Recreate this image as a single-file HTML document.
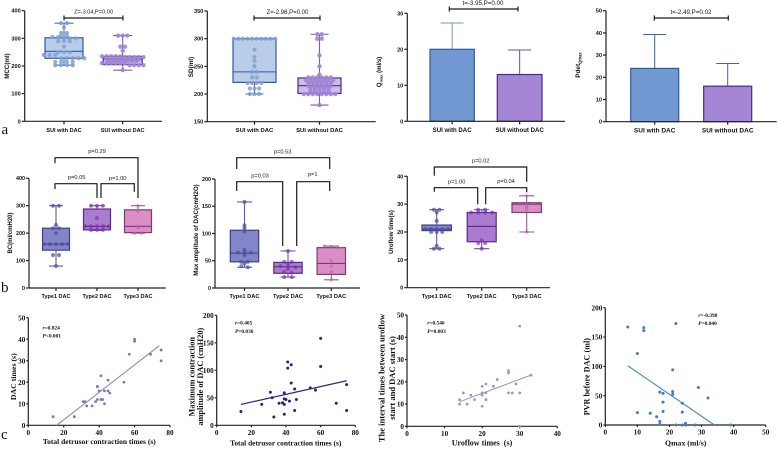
<!DOCTYPE html>
<html lang="en">
<head>
<meta charset="utf-8">
<title>DAC urodynamics figure</title>
<style>
html,body{margin:0;padding:0;background:#fff;}
body{width:777px;height:449px;overflow:hidden;}
svg{display:block;filter:blur(0.3px);}
.s{font-family:"Liberation Sans",sans-serif;fill:#1a1a1a;}
.b{font-family:"Liberation Sans",sans-serif;font-weight:bold;fill:#111;}
.f{font-family:"Liberation Serif",serif;font-weight:bold;fill:#111;}
.br{fill:none;stroke:#1a1a1a;stroke-width:1.2;}
</style>
</head>
<body>
<svg id="fig" width="777" height="449" viewBox="0 0 777 449" xmlns="http://www.w3.org/2000/svg">
<rect width="777" height="449" fill="#fff"/>

<text class="f" style="font-weight:normal" x="1.5" y="134" font-size="15">a</text>
<text class="f" style="font-weight:normal" x="1" y="292" font-size="15">b</text>
<text class="f" style="font-weight:normal" x="1" y="439" font-size="15">c</text>

<text class="b" font-size="6.2" text-anchor="middle" transform="translate(9,66) rotate(-90)">MCC(ml)</text>
<text class="b" font-size="6.4" text-anchor="middle" transform="translate(193,67) rotate(-90)">SD(ml)</text>
<text class="b" font-size="6" text-anchor="middle" transform="translate(381,72) rotate(-90)">Q<tspan font-size="4" dy="1.5">max</tspan><tspan dy="-1.5">  (ml/s)</tspan></text>
<text class="b" font-size="6.4" text-anchor="middle" transform="translate(580,65) rotate(-90)">Pdet<tspan font-size="4.2" dy="1.5">Qmax</tspan></text>
<text class="b" font-size="6" text-anchor="middle" transform="translate(12,233) rotate(-90)">BC(ml/cmH20)</text>
<text class="b" font-size="6.2" text-anchor="middle" transform="translate(198.2,230) rotate(-90)">Max amplitude of DAC(cmH2O)</text>
<text class="b" font-size="6" text-anchor="middle" transform="translate(393,232) rotate(-90)">Uroflow time(s)</text>

<g>
<path class="br" d="M64 15.5V20.5M64 18H123M123 15.5V20.5"/>
<path class="br" d="M254 15.5V20.5M254 18H320M320 15.5V20.5"/>
<path class="br" d="M449.3 6.5V11.5M449.3 9H518M518 6.5V11.5"/>
<path class="br" d="M654.3 15.5V20.5M654.3 18H728.3M728.3 15.5V20.5"/>
<text class="s" font-size="5.6" text-anchor="middle" x="93.5" y="13.5">Z=-3.04,P=0.00</text>
<text class="s" font-size="6" text-anchor="middle" x="287.5" y="14">Z=-2.96,P=0.00</text>
<text class="s" font-size="6.2" text-anchor="middle" x="483" y="5">t=-3.95,P=0.00</text>
<text class="s" font-size="6.2" text-anchor="middle" x="691" y="14">t=-2.49,P=0.02</text>
</g>

<g>
<path class="br" d="M55 163.3V157.7H138V198"/>
<path class="br" d="M55 189V183.7H97V198"/>
<path class="br" d="M101 198V183.7H134.3V191.7"/>
<text class="s" font-size="5.7" text-anchor="middle" x="97" y="153">p=0.29</text>
<text class="s" font-size="5.7" text-anchor="middle" x="76.7" y="179">p=0.05</text>
<text class="s" font-size="5.7" text-anchor="middle" x="117.7" y="180">p=1.00</text>
<path class="br" d="M236.7 169V157.7H329.7V169"/>
<path class="br" d="M236.7 191V181.7H282.7V246"/>
<path class="br" d="M296.7 246V181.7H329.7V191"/>
<text class="s" font-size="5.7" text-anchor="middle" x="282.7" y="153.7">p=0.53</text>
<text class="s" font-size="5.7" text-anchor="middle" x="260" y="177.3">p=0.03</text>
<text class="s" font-size="5.7" text-anchor="middle" x="312.7" y="176">p=1</text>
<path class="br" d="M434.3 175.7V167H526.7V181.7"/>
<path class="br" d="M434.3 191.7V187.7H477.7V204.3"/>
<path class="br" d="M485.7 204.3V187.7H526.7V192.3"/>
<text class="s" font-size="5.7" text-anchor="middle" x="480.7" y="162.3">p=0.02</text>
<text class="s" font-size="5.7" text-anchor="middle" x="456.7" y="183.7">p=1.00</text>
<text class="s" font-size="5.7" text-anchor="middle" x="506" y="183">p=0.04</text>
</g>

<g>
<text class="f" font-size="7.5" text-anchor="middle" x="99.3" y="444">Total detrusor contraction times (s)</text>
<text class="f" font-size="7.8" text-anchor="middle" transform="translate(15.8,376.7) rotate(-90)">DAC times (s)</text>
<text class="f" font-size="5.4" x="42.5" y="329.5"><tspan font-style="italic">r</tspan>=0.824</text>
<text class="f" font-size="5.4" x="42.5" y="337.5"><tspan font-style="italic">P</tspan>&lt;0.001</text>

<text class="f" font-size="7.4" text-anchor="middle" x="285.7" y="445.5">Total detrusor contraction times (s)</text>
<text class="f" font-size="8.3" text-anchor="middle" transform="translate(194.5,376.7) rotate(-90)">Maximum contraction</text>
<text class="f" font-size="8.3" text-anchor="middle" transform="translate(203,376.7) rotate(-90)">amplitude of DAC (cmH20)</text>
<text class="f" font-size="5.4" x="235" y="324.5"><tspan font-style="italic">r</tspan>=0.405</text>
<text class="f" font-size="5.4" x="235" y="333"><tspan font-style="italic">P</tspan>=0.036</text>

<text class="f" font-size="8" text-anchor="middle" x="482" y="445.5">Uroflow times &#160;(s)</text>
<text class="f" font-size="8.5" text-anchor="middle" transform="translate(384.5,378) rotate(-90)">The interval times between uroflow</text>
<text class="f" font-size="8.5" text-anchor="middle" transform="translate(395,378) rotate(-90)">start and DAC start (s)</text>
<text class="f" font-size="5.4" x="427.3" y="324.5"><tspan font-style="italic">r</tspan>=0.546</text>
<text class="f" font-size="5.4" x="427.3" y="333"><tspan font-style="italic">P</tspan>=0.003</text>

<text class="f" font-size="7.8" text-anchor="middle" x="685.7" y="445.5">Qmax (ml/s)</text>
<text class="f" font-size="8.2" text-anchor="middle" transform="translate(589.5,376.7) rotate(-90)">PVR before DAC (ml)</text>
<text class="f" font-size="5.4" x="698.3" y="317"><tspan font-style="italic">r</tspan>=-0.398</text>
<text class="f" font-size="5.4" x="698.3" y="325"><tspan font-style="italic">P</tspan>=0.040</text>
</g>
</svg>

<script>
// ---------- category labels ----------
const suiCategories = ['SUI with DAC', 'SUI without DAC'];
const typeCategories = ['Type1 DAC', 'Type2 DAC', 'Type3 DAC'];

// ---------- tick labels ----------
const mccTicks = [0, 100, 200, 300, 400];
const sdTicks = [150, 200, 250, 300, 350];
const qmaxTicks = [0, 10, 20, 30];
const pdetTicks = [0, 10, 20, 30, 40, 50];
const bcTicks = [0, 100, 200, 300, 400];
const ampTicks = [0, 50, 100, 150, 200];
const uroTicks = [0, 10, 20, 30, 40];
const c1XTicks = [0, 20, 40, 60, 80];
const c1YTicks = [0, 10, 20, 30, 40, 50];
const c2XTicks = [0, 20, 40, 60, 80];
const c2YTicks = [0, 50, 100, 150, 200];
const c3XTicks = [0, 10, 20, 30, 40];
const c3YTicks = [0, 10, 20, 30, 40, 50];
const c4XTicks = [0, 10, 20, 30, 40, 50];
const c4YTicks = [0, 50, 100, 150, 200];

// ---------- box summaries: min, q1, median, q3, max ----------
const mccWithBox = [203, 228, 253, 302, 355];
const mccWithoutBox = [185, 205, 226, 235, 310];
const sdWithBox = [200, 221, 240, 300, 300];
const sdWithoutBox = [180, 201, 215, 229, 308];
const bcType1Box = [80, 138, 160, 218, 300];
const bcType2Box = [210, 212, 225, 288, 300];
const bcType3Box = [200, 202, 225, 285, 300];
const ampType1Box = [38, 48, 64, 106, 158];
const ampType2Box = [20, 27, 39, 47, 68];
const ampType3Box = [15, 25, 45, 74, 77];
const uroType1Box = [14, 20.5, 21, 22.5, 28];
const uroType2Box = [14, 16.5, 22, 27, 28];
const uroType3Box = [20, 27, 30, 30.5, 33];

// ---------- swarm points ----------
const mccWithPts = [355,355,340,320,320,310,310,305,305,300,300,300,290,290,290,270,250,250,250,240,240,240,228,228,228,228,228,215,215,215,215,203,203,203,203];
const mccWithoutPts = [310,310,310,270,270,255,235,235,235,235,235,232,232,232,232,232,225,225,225,225,225,225,225,225,218,218,218,218,218,218,218,210,210,210,210,210,210,203,203,203,203,185];
const sdWithPts = [300,300,300,300,300,300,300,300,300,300,280,267,260,250,240,240,230,230,220,220,220,220,210,210,210,200,200,200];
const sdWithoutPts = [308,308,300,300,270,250,235,230,230,230,230,230,230,225,225,225,225,225,225,225,220,220,220,220,220,220,215,215,215,215,215,215,210,210,210,210,210,205,205,205,205,205,200,200,200,200,200,200,200,200,180];
const bcType1Pts = [300,300,230,200,218,218,160,160,160,160,160,120,120,80];
const bcType2Pts = [300,300,300,255,225,225,225,225,225,212,212,212];
const bcType3Pts = [300,280,225,220,200,200];
const ampType1Pts = [158,115,110,104,70,65,65,65,60,48,48,45,40,38];
const ampType2Pts = [68,48,48,45,40,40,38,35,30,28,20,20];
const ampType3Pts = [77,76,74,50,40,30,15];
const uroType1Pts = [28,28,27,24,21,21,21,21,21,20,20,20,15,14,14];
const uroType2Pts = [28,28,27,27,27,27,17,16,16,14];
const uroType3Pts = [33,30,30,30,29,28,20];

// ---------- bars: mean and upper error ----------
const qmaxMeans = [20, 13];
const qmaxUpper = [27.3, 19.8];
const pdetMeans = [24, 16];
const pdetUpper = [39.3, 26.2];

// ---------- scatter panels ----------
const c1X = [14,26,31,32,33,36,38,39,39,39,40,41,41,42,43,43,45,45,46,54,57,60,60,69,75,75];
const c1Y = [4,4,11,11,9,9,11,12,18,18,16,23,12,12,10,16,21,16,15,20,33,39,40,33,35,30];
const c1LineX = [16, 74];
const c1LineY = [0, 37];
const c2X = [14,26,31,32,33,36,38,39,39,39,39,40,41,41,42,43,43,45,45,46,54,57,60,60,69,75,75];
const c2Y = [25,38,60,50,15,40,41,38,20,59,48,47,115,104,44,110,77,27,66,47,68,64,158,107,40,27,74];
const c2LineX = [14, 75];
const c2LineY = [38, 81];
const c3X = [14,14,15,16,17,18,20,20,20,20,21,21,21,21,23,24,27,27,27,28,29,30,30,30,33];
const c3Y = [10,12,15,10,14,12,9,14,15,18,12,12,15,19,18,21,15,24,25,15,19,15,45,0,23];
const c3LineX = [14, 33];
const c3LineY = [11, 23];
const c4X = [7,10,10,12,12,14,16,17,17,17,18,18,18,21,21,21,22,22,24,24,24,25,25,28,29,32,39];
const c4Y = [167,122,21,166,161,20,14,56,6,1,54,39,23,94,57,52,173,0,37,22,0,3,0,0,64,46,0];
const c4LineX = [7, 34];
const c4LineY = [101, 0];

// ---------- helpers ----------
const NS = 'http://www.w3.org/2000/svg';
const fig = document.getElementById('fig');
function mk(tag, parent, props, text) {
  const el = document.createElementNS(NS, tag);
  for (const k in props) el.setAttribute(k, props[k]);
  if (text !== undefined) el.textContent = text;
  parent.appendChild(el);
  return el;
}
function linear(d0, d1, r0, r1) {
  return v => r0 + (v - d0) / (d1 - d0) * (r1 - r0);
}
function panel(name) {
  const g = mk('g', fig, {});
  
  
  return g;
}
function drawYAxis(g, x, top, bottom, ticks, sy, cls, fs, len) {
  const ax = mk('line', g, {x1: x, x2: x, y1: top, y2: bottom, stroke: '#222', 'stroke-width': 1.2});
  
  
  ticks.forEach(t => {
    const tk = mk('line', g, {x1: x - len, x2: x, y1: sy(t), y2: sy(t), stroke: '#222', 'stroke-width': 1.2});
    
    
    const lb = mk('text', g, {x: x - len - 1, y: sy(t) + fs * 0.36, 'text-anchor': 'end', 'font-size': fs, class: cls}, t);
    
    
  });
}
function drawXBase(g, x0, x1, y) {
  const ax = mk('line', g, {x1: x0, x2: x1, y1: y, y2: y, stroke: '#222', 'stroke-width': 1.2});
  
  
}
function drawCategoryTicks(g, labels, centers, y, labelY, fs) {
  labels.forEach((c, i) => {
    const tk = mk('line', g, {x1: centers(i), x2: centers(i), y1: y, y2: y + 3, stroke: '#222', 'stroke-width': 1.2});
    
    
    const lb = mk('text', g, {x: centers(i), y: labelY, 'text-anchor': 'middle', 'font-size': fs, class: 'b'}, c);
    
    
  });
}
function drawBox(g, cx, w, sy, stats, col, capW) {
  const [mn, q1, med, q3, mx] = stats;
  const box = mk('rect', g, {x: cx - w / 2, y: sy(q3), width: w, height: sy(q1) - sy(q3), fill: col.fill, stroke: col.line, 'stroke-width': 1.2});
  
  
  const medLine = mk('line', g, {x1: cx - w / 2, x2: cx + w / 2, y1: sy(med), y2: sy(med), stroke: col.line, 'stroke-width': 1.1});
  
  
  const whisk = mk('path', g, {
    d: `M${cx} ${sy(q3)}V${sy(mx)}M${cx - capW / 2} ${sy(mx)}H${cx + capW / 2}M${cx} ${sy(q1)}V${sy(mn)}M${cx - capW / 2} ${sy(mn)}H${cx + capW / 2}`,
    fill: 'none', stroke: col.whisker, 'stroke-width': 1.1
  });
  
  
}
function drawSwarm(g, cx, sy, values, col, binSize, step, r) {
  const bins = new Map();
  values.forEach(v => {
    const k = Math.round(v / binSize);
    if (!bins.has(k)) bins.set(k, []);
    bins.get(k).push(v);
  });
  bins.forEach(list => {
    list.forEach((v, i) => {
      const off = (i - (list.length - 1) / 2) * step;
      const c = mk('circle', g, {cx: cx + off, cy: sy(v), r: r, fill: col.dot, 'fill-opacity': col.op});
      
      
    });
  });
}
function drawBar(g, x0, x1, sy, mean, upper, col) {
  const cx = (x0 + x1) / 2;
  const err = mk('path', g, {d: `M${cx} ${sy(mean)}V${sy(upper)}M${cx - 11.5} ${sy(upper)}H${cx + 11.5}`, fill: 'none', stroke: col.err, 'stroke-width': 1});
  
  
  const b = mk('rect', g, {x: x0, y: sy(mean), width: x1 - x0, height: sy(0) - sy(mean), fill: col.fill, stroke: col.line, 'stroke-width': 1.2});
  
  
}
function drawScatter(g, geo, xTicks, yTicks, xs, ys, lineX, lineY, col) {
  const sx = linear(xTicks[0], xTicks[xTicks.length - 1], geo.x0, geo.x1);
  const sy = linear(yTicks[0], yTicks[yTicks.length - 1], geo.y0, geo.y1);
  drawYAxis(g, geo.x0, geo.y1, geo.y0, yTicks, sy, 'f', 7.2, 2);
  drawXBase(g, geo.x0, geo.x1, geo.y0);
  xTicks.forEach(t => {
    const tk = mk('line', g, {x1: sx(t), x2: sx(t), y1: geo.y0, y2: geo.y0 + 2, stroke: '#222', 'stroke-width': 1.2});
    
    
    const lb = mk('text', g, {x: sx(t), y: geo.y0 + 9.5, 'text-anchor': 'middle', 'font-size': 7.2, class: 'f'}, t);
    
    
  });
  const tl = mk('line', g, {x1: sx(lineX[0]), y1: sy(lineY[0]), x2: sx(lineX[1]), y2: sy(lineY[1]), stroke: col.line, 'stroke-width': col.w});
  
  
  xs.forEach((x, i) => {
    const p = mk('circle', g, {cx: sx(x), cy: sy(ys[i]), r: col.r, fill: col.dot});
    
    
  });
}

// ---------- colours ----------
const blue = {fill:'#b9cde9', line:'#2f5c9f', whisker:'#4a72b0', dot:'#7f9fd2', op:.85};
const purple = {fill:'#cdbcea', line:'#4a2c92', whisker:'#7a5cb8', dot:'#9f84d6', op:.9};
const indigo = {fill:'#8484c8', line:'#3f3f8c', whisker:'#5e5ea0', dot:'#4d4d9e', op:.7};
const violet = {fill:'#ab7bd0', line:'#5a2a8c', whisker:'#7a4aa8', dot:'#7534a8', op:.65};
const pink = {fill:'#d98fc6', line:'#7f3a70', whisker:'#9a5a8c', dot:'#b060a0', op:.55};
const barBlue = {fill:'#7299d2', line:'#2f5a9e', err:'#7f95bf'};
const barBlue2 = {fill:'#7299d2', line:'#2f5a9e', err:'#3f659f'};
const barPurple = {fill:'#a586d4', line:'#47288c', err:'#6c4fa0'};

// ---------- panel a: boxes ----------
(function () {
  const g = panel('mcc-boxplot');
  const sy = linear(0, 400, 121.3, 10.7);
  const cx = [64, 122.7];
  drawBox(g, cx[0], 38, sy, mccWithBox, blue, 19);
  drawBox(g, cx[1], 39, sy, mccWithoutBox, purple, 19);
  drawSwarm(g, cx[0], sy, mccWithPts, blue, 13, 5.8, 2.1);
  drawSwarm(g, cx[1], sy, mccWithoutPts, purple, 9, 4.6, 2.2);
  drawYAxis(g, 24.7, 10.7, 121.3, mccTicks, sy, 'b', 5.6, 3);
  drawXBase(g, 24.7, 162, 121.3);
  drawCategoryTicks(g, suiCategories, i => cx[i], 121.3, 132, 5.5);
})();
(function () {
  const g = panel('sd-boxplot');
  const sy = linear(150, 350, 121.7, 11);
  const cx = [254.5, 319.5];
  drawBox(g, cx[0], 43, sy, sdWithBox, blue, 18);
  drawBox(g, cx[1], 43, sy, sdWithoutBox, purple, 18);
  drawSwarm(g, cx[0], sy, sdWithPts, blue, 5, 4.6, 2.1);
  drawSwarm(g, cx[1], sy, sdWithoutPts, purple, 5, 4.5, 2.2);
  drawYAxis(g, 207.3, 11, 121.7, sdTicks, sy, 'b', 5.6, 3);
  drawXBase(g, 207.3, 375.7, 121.7);
  drawCategoryTicks(g, suiCategories, i => cx[i], 121.7, 132, 5.9);
})();

// ---------- panel a: bars ----------
(function () {
  const g = panel('qmax-bar-chart');
  const sy = linear(0, 30, 121.3, 13.3);
  const ex = [[430, 474.3], [497.3, 542]];
  qmaxMeans.forEach((m, i) => drawBar(g, ex[i][0], ex[i][1], sy, m, qmaxUpper[i], i ? barPurple : barBlue));
  drawYAxis(g, 407.3, 13.3, 121.3, qmaxTicks, sy, 'b', 5.6, 3);
  drawXBase(g, 407.3, 565, 121.3);
  drawCategoryTicks(g, suiCategories, i => (ex[i][0] + ex[i][1]) / 2, 121.3, 132, 6.1);
})();
(function () {
  const g = panel('pdet-bar-chart');
  const sy = linear(0, 50, 121.7, 10.7);
  const ex = [[630.7, 678.7], [703.7, 751.7]];
  pdetMeans.forEach((m, i) => drawBar(g, ex[i][0], ex[i][1], sy, m, pdetUpper[i], i ? barPurple : barBlue2));
  drawYAxis(g, 606, 10.7, 121.7, pdetTicks, sy, 'b', 5.6, 3);
  drawXBase(g, 606, 776.7, 121.7);
  drawCategoryTicks(g, suiCategories, i => (ex[i][0] + ex[i][1]) / 2, 121.7, 132.5, 6.5);
})();

// ---------- panel b ----------
(function () {
  const g = panel('bc-boxplot');
  const sy = linear(0, 400, 288, 178.3);
  const cx = [56, 97, 138];
  drawBox(g, cx[0], 27, sy, bcType1Box, indigo, 14);
  drawBox(g, cx[1], 27, sy, bcType2Box, violet, 14);
  drawBox(g, cx[2], 27, sy, bcType3Box, pink, 14);
  drawSwarm(g, cx[0], sy, bcType1Pts, indigo, 5, 6, 2);
  drawSwarm(g, cx[1], sy, bcType2Pts, violet, 5, 6, 2);
  drawSwarm(g, cx[2], sy, bcType3Pts, pink, 5, 7, 1.7);
  drawYAxis(g, 29, 178.3, 288, bcTicks, sy, 'b', 5.4, 3);
  drawXBase(g, 29, 165.7, 288);
  drawCategoryTicks(g, typeCategories, i => cx[i], 288, 298, 5.5);
})();
(function () {
  const g = panel('amplitude-boxplot');
  const sy = linear(0, 200, 288, 179);
  const cx = [244.5, 288, 331.3];
  drawBox(g, cx[0], 28.4, sy, ampType1Box, indigo, 15);
  drawBox(g, cx[1], 28.4, sy, ampType2Box, violet, 15);
  drawBox(g, cx[2], 28.4, sy, ampType3Box, pink, 15);
  drawSwarm(g, cx[0], sy, ampType1Pts, indigo, 5, 6.5, 2);
  drawSwarm(g, cx[1], sy, ampType2Pts, violet, 5, 7.5, 2);
  drawSwarm(g, cx[2], sy, ampType3Pts, pink, 5, 7, 1.7);
  drawYAxis(g, 215, 179, 288, ampTicks, sy, 'b', 5.4, 3);
  drawXBase(g, 215, 360, 288);
  drawCategoryTicks(g, typeCategories, i => cx[i], 288, 298, 5.7);
})();
(function () {
  const g = panel('uroflow-boxplot');
  const sy = linear(0, 40, 287.7, 176.3);
  const cx = [436.7, 481.7, 526.7];
  drawBox(g, cx[0], 29.4, sy, uroType1Box, indigo, 15);
  drawBox(g, cx[1], 29, sy, uroType2Box, violet, 15);
  drawBox(g, cx[2], 29.4, sy, uroType3Box, pink, 15);
  drawSwarm(g, cx[0], sy, uroType1Pts, indigo, 1, 5.5, 2);
  drawSwarm(g, cx[1], sy, uroType2Pts, violet, 1, 7, 2);
  drawSwarm(g, cx[2], sy, uroType3Pts, pink, 1, 7, 1.7);
  drawYAxis(g, 407.3, 176.3, 287.7, uroTicks, sy, 'b', 5.6, 3);
  drawXBase(g, 407.3, 550, 287.7);
  drawCategoryTicks(g, typeCategories, i => cx[i], 287.7, 298, 5.7);
})();

// ---------- panel c ----------
drawScatter(panel('dac-times-scatter'), {x0: 28.3, x1: 170, y0: 425.3, y1: 317.7}, c1XTicks, c1YTicks, c1X, c1Y, c1LineX, c1LineY, {line: '#8f7fbf', w: 1, dot: '#7f76b4', r: 1.4});
drawScatter(panel('amplitude-scatter'), {x0: 216.7, x1: 355.3, y0: 425.3, y1: 315.3}, c2XTicks, c2YTicks, c2X, c2Y, c2LineX, c2LineY, {line: '#3d2080', w: 1.2, dot: '#352070', r: 1.5});
drawScatter(panel('interval-scatter'), {x0: 407, x1: 557.3, y0: 426.3, y1: 315}, c3XTicks, c3YTicks, c3X, c3Y, c3LineX, c3LineY, {line: '#9c90c8', w: 1, dot: '#9c96c4', r: 1.4});
drawScatter(panel('pvr-scatter'), {x0: 605.3, x1: 765.7, y0: 425, y1: 307.7}, c4XTicks, c4YTicks, c4X, c4Y, c4LineX, c4LineY, {line: '#4f86c6', w: 1.1, dot: '#3f7cc4', r: 1.5});
</script>
</body>
</html>
